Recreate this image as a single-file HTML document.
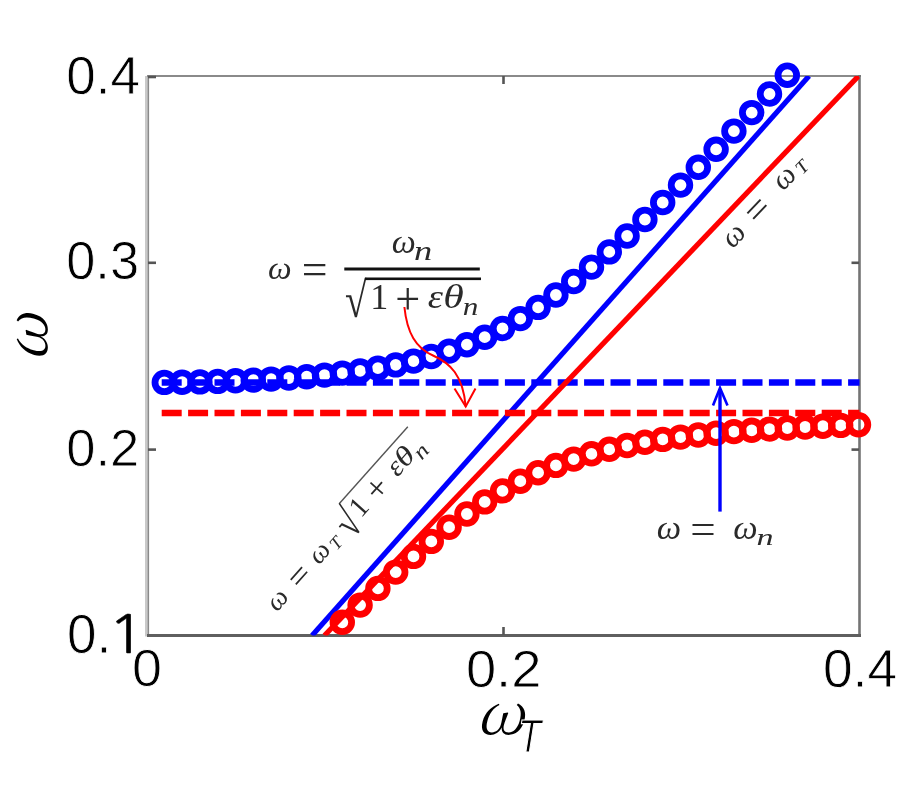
<!DOCTYPE html>
<html><head><meta charset="utf-8"><style>html,body{margin:0;padding:0;background:#fff;width:900px;height:800px;overflow:hidden}svg{display:block}</style></head>
<body><svg width="900" height="800" viewBox="0 0 900 800">
<defs><clipPath id="ax"><rect x="147.5" y="76" width="712" height="559.5"/></clipPath></defs>
<rect width="900" height="800" fill="#fff"/>
<!-- axes -->
<rect x="145" y="76" width="2.6" height="560.5" fill="#c9c9c9"/>
<rect x="147.5" y="76" width="1.6" height="560.5" fill="#8a8a8a"/>
<line x1="147" y1="76" x2="861" y2="76" stroke="#8a8a8a" stroke-width="2"/>
<line x1="859.5" y1="75" x2="859.5" y2="637" stroke="#747474" stroke-width="2.6"/>
<line x1="147" y1="635.4" x2="861" y2="635.4" stroke="#5f5f5f" stroke-width="3"/>
<g stroke="#555" stroke-width="2.6">
<line x1="503.5" y1="627" x2="503.5" y2="635"/>
<line x1="503.5" y1="76" x2="503.5" y2="84"/>
<line x1="148" y1="262.8" x2="156" y2="262.8"/>
<line x1="148" y1="449.6" x2="156" y2="449.6"/>
<line x1="851.5" y1="262.8" x2="859" y2="262.8"/>
<line x1="851.5" y1="449.6" x2="859" y2="449.6"/>
<line x1="148" y1="77" x2="156" y2="77"/>
</g>
<g fill="none" stroke="#0000ff" stroke-width="6.8">
<circle cx="164.3" cy="382.4" r="9.3"/>
<circle cx="182.1" cy="382.2" r="9.3"/>
<circle cx="199.9" cy="381.9" r="9.3"/>
<circle cx="217.7" cy="381.4" r="9.3"/>
<circle cx="235.5" cy="380.8" r="9.3"/>
<circle cx="253.3" cy="380.1" r="9.3"/>
<circle cx="271.1" cy="379.1" r="9.3"/>
<circle cx="288.9" cy="378.0" r="9.3"/>
<circle cx="306.7" cy="376.7" r="9.3"/>
<circle cx="324.5" cy="375.1" r="9.3"/>
<circle cx="342.3" cy="373.1" r="9.3"/>
<circle cx="360.1" cy="370.9" r="9.3"/>
<circle cx="377.9" cy="368.2" r="9.3"/>
<circle cx="395.7" cy="364.9" r="9.3"/>
<circle cx="413.5" cy="361.1" r="9.3"/>
<circle cx="431.3" cy="356.5" r="9.3"/>
<circle cx="449.1" cy="351.1" r="9.3"/>
<circle cx="466.9" cy="344.7" r="9.3"/>
<circle cx="484.7" cy="337.2" r="9.3"/>
<circle cx="502.5" cy="328.5" r="9.3"/>
<circle cx="520.3" cy="318.6" r="9.3"/>
<circle cx="538.1" cy="307.4" r="9.3"/>
<circle cx="555.9" cy="295.0" r="9.3"/>
<circle cx="573.7" cy="281.5" r="9.3"/>
<circle cx="591.5" cy="267.1" r="9.3"/>
<circle cx="609.3" cy="251.9" r="9.3"/>
<circle cx="627.1" cy="236.0" r="9.3"/>
<circle cx="644.9" cy="219.5" r="9.3"/>
<circle cx="662.7" cy="202.5" r="9.3"/>
<circle cx="680.5" cy="185.1" r="9.3"/>
<circle cx="698.3" cy="167.3" r="9.3"/>
<circle cx="716.1" cy="149.3" r="9.3"/>
<circle cx="733.9" cy="131.1" r="9.3"/>
<circle cx="751.7" cy="112.6" r="9.3"/>
<circle cx="769.5" cy="94.0" r="9.3"/>
<circle cx="787.3" cy="75.2" r="9.3"/>
</g>
<g clip-path="url(#ax)">
<line x1="312.1" y1="635.5" x2="809.0" y2="76.0" stroke="#0000ff" stroke-width="5.2"/>
<line x1="161.7" y1="382.5" x2="860" y2="382.5" stroke="#0000ff" stroke-width="6.5" stroke-dasharray="20 6.4"/>
</g>
<g fill="none" stroke="#ff0000" stroke-width="6.8">
<circle cx="342.3" cy="622.3" r="9.3"/>
<circle cx="360.1" cy="605.1" r="9.3"/>
<circle cx="377.9" cy="588.4" r="9.3"/>
<circle cx="395.7" cy="572.1" r="9.3"/>
<circle cx="413.5" cy="556.4" r="9.3"/>
<circle cx="431.3" cy="541.4" r="9.3"/>
<circle cx="449.1" cy="527.2" r="9.3"/>
<circle cx="466.9" cy="514.0" r="9.3"/>
<circle cx="484.7" cy="501.9" r="9.3"/>
<circle cx="502.5" cy="490.9" r="9.3"/>
<circle cx="520.3" cy="481.2" r="9.3"/>
<circle cx="538.1" cy="472.7" r="9.3"/>
<circle cx="555.9" cy="465.4" r="9.3"/>
<circle cx="573.7" cy="459.1" r="9.3"/>
<circle cx="591.5" cy="453.8" r="9.3"/>
<circle cx="609.3" cy="449.3" r="9.3"/>
<circle cx="627.1" cy="445.5" r="9.3"/>
<circle cx="644.9" cy="442.2" r="9.3"/>
<circle cx="662.7" cy="439.4" r="9.3"/>
<circle cx="680.5" cy="437.1" r="9.3"/>
<circle cx="698.3" cy="435.0" r="9.3"/>
<circle cx="716.1" cy="433.2" r="9.3"/>
<circle cx="733.9" cy="431.6" r="9.3"/>
<circle cx="751.7" cy="430.3" r="9.3"/>
<circle cx="769.5" cy="429.1" r="9.3"/>
<circle cx="787.3" cy="428.0" r="9.3"/>
<circle cx="805.1" cy="427.0" r="9.3"/>
<circle cx="822.9" cy="426.2" r="9.3"/>
<circle cx="840.7" cy="425.4" r="9.3"/>
<circle cx="858.5" cy="424.7" r="9.3"/>
</g>
<g clip-path="url(#ax)">
<line x1="324.5" y1="635.5" x2="858.5" y2="76.0" stroke="#ff0000" stroke-width="5.2"/>
<line x1="161.7" y1="413" x2="860" y2="413" stroke="#ff0000" stroke-width="6.5" stroke-dasharray="20 6.4"/>
</g>
<text font-family="Liberation Serif, Times New Roman, serif" font-style="italic" font-size="32.39" transform="translate(267.89,278.68) scale(1.031,1)" fill="#2a2a2a">ω</text>
<text font-family="Liberation Serif, Times New Roman, serif" font-size="44.00" transform="translate(301.72,284.11) scale(1.040,1)" fill="#2a2a2a">=</text>
<text font-family="Liberation Serif, Times New Roman, serif" font-style="italic" font-size="33.23" transform="translate(391.67,252.98) scale(1.024,1)" fill="#2a2a2a">ω</text>
<text font-family="Liberation Serif, Times New Roman, serif" font-style="italic" font-size="26.32" transform="translate(414.00,259.70) scale(1.384,1)" fill="#2a2a2a">n</text>
<rect x="344.3" y="267.5" width="135.5" height="3" fill="#111"/>
<text font-family="Liberation Serif, Times New Roman, serif" font-size="49.26" transform="translate(345.02,316.96) scale(0.796,1)" fill="#2a2a2a">√</text>
<rect x="365" y="277.5" width="116" height="2.6" fill="#111"/>
<text font-family="Liberation Serif, Times New Roman, serif" font-size="35.45" transform="translate(370.13,308.70) scale(1.018,1)" fill="#2a2a2a">1</text>
<text font-family="Liberation Serif, Times New Roman, serif" font-size="45.51" transform="translate(395.20,314.11) scale(0.973,1)" fill="#2a2a2a">+</text>
<text font-family="Liberation Serif, Times New Roman, serif" font-style="italic" font-size="34.10" transform="translate(427.67,308.17) scale(1.129,1)" fill="#2a2a2a">ε</text>
<text font-family="Liberation Serif, Times New Roman, serif" font-style="italic" font-size="32.72" transform="translate(443.36,308.18) scale(1.277,1)" fill="#2a2a2a">θ</text>
<text font-family="Liberation Serif, Times New Roman, serif" font-style="italic" font-size="25.68" transform="translate(462.79,314.80) scale(1.216,1)" fill="#2a2a2a">n</text>
<text font-family="Liberation Serif, Times New Roman, serif" font-style="italic" font-size="34.69" transform="translate(656.75,538.56) scale(0.995,1)" fill="#2a2a2a">ω</text>
<text font-family="Liberation Serif, Times New Roman, serif" font-size="43.20" transform="translate(690.35,542.74) scale(1.045,1)" fill="#2a2a2a">=</text>
<text font-family="Liberation Serif, Times New Roman, serif" font-style="italic" font-size="34.69" transform="translate(733.35,538.56) scale(0.995,1)" fill="#2a2a2a">ω</text>
<text font-family="Liberation Serif, Times New Roman, serif" font-style="italic" font-size="23.13" transform="translate(756.49,544.70) scale(1.472,1)" fill="#2a2a2a">n</text>
<text font-family="Liberation Serif, Times New Roman, serif" font-style="italic" font-size="30.30" transform="translate(732.71,249.25) rotate(-46.30) scale(0.997,1)" fill="#2a2a2a">ω</text>
<text font-family="Liberation Serif, Times New Roman, serif" font-size="40.00" transform="translate(758.44,226.71) rotate(-46.30) scale(1.021,1)" fill="#2a2a2a">=</text>
<text font-family="Liberation Serif, Times New Roman, serif" font-style="italic" font-size="30.30" transform="translate(783.25,191.59) rotate(-46.30) scale(0.997,1)" fill="#2a2a2a">ω</text>
<text font-family="Liberation Serif, Times New Roman, serif" font-style="italic" font-size="18.33" transform="translate(802.42,175.21) rotate(-46.30) scale(1.092,1)" fill="#2a2a2a">T</text>
<text font-family="Liberation Serif, Times New Roman, serif" font-style="italic" font-size="27.17" transform="translate(277.12,612.57) rotate(-48.30) scale(1.024,1)" fill="#2a2a2a">ω</text>
<text font-family="Liberation Serif, Times New Roman, serif" font-size="34.00" transform="translate(300.39,591.04) rotate(-48.30) scale(1.075,1)" fill="#2a2a2a">=</text>
<text font-family="Liberation Serif, Times New Roman, serif" font-style="italic" font-size="27.17" transform="translate(319.03,565.53) rotate(-48.30) scale(1.024,1)" fill="#2a2a2a">ω</text>
<text font-family="Liberation Serif, Times New Roman, serif" font-style="italic" font-size="17.56" transform="translate(336.75,551.08) rotate(-48.30) scale(1.087,1)" fill="#2a2a2a">T</text>
<text font-family="Liberation Serif, Times New Roman, serif" font-size="28.78" transform="translate(361.11,518.41) rotate(-48.30) scale(0.987,1)" fill="#2a2a2a">1</text>
<text font-family="Liberation Serif, Times New Roman, serif" font-size="35.42" transform="translate(378.89,503.20) rotate(-48.30) scale(0.971,1)" fill="#2a2a2a">+</text>
<text font-family="Liberation Serif, Times New Roman, serif" font-style="italic" font-size="28.07" transform="translate(397.40,477.64) rotate(-48.30) scale(1.103,1)" fill="#2a2a2a">ε</text>
<text font-family="Liberation Serif, Times New Roman, serif" font-style="italic" font-size="27.50" transform="translate(405.51,468.69) rotate(-48.30) scale(1.258,1)" fill="#2a2a2a">θ</text>
<text font-family="Liberation Serif, Times New Roman, serif" font-style="italic" font-size="21.22" transform="translate(421.64,460.68) rotate(-48.30) scale(1.226,1)" fill="#2a2a2a">n</text>
<text font-family="Liberation Serif, Times New Roman, serif" font-size="43.24" transform="translate(352.23,539.87) rotate(-48.30) scale(0.818,1)" fill="#2a2a2a">√</text>
<line x1="339.62" y1="503.29" x2="407.81" y2="426.75" stroke="#555" stroke-width="1.4"/>
<text font-family="Noto Serif CJK SC, Liberation Serif, serif" font-size="58.09" transform="translate(46.65,361.66) rotate(-90.00) scale(1.013,1) skewX(-15.0)" fill="#000">ω</text>
<text font-family="Noto Serif CJK SC, Liberation Serif, serif" font-size="58.18" transform="translate(475.84,734.43) scale(1.028,1) skewX(-15.0)" fill="#000">ω</text>
<text font-family="Liberation Sans, Arial, sans-serif" font-style="italic" font-size="46.51" transform="translate(517.89,752.00) scale(0.815,1)" fill="#000" stroke="#fff" stroke-width="1.2">T</text>
<text font-family="Liberation Sans, Arial, sans-serif" font-size="54.10" transform="translate(66.23,93.87) scale(0.979,1)" fill="#000" stroke="#fff" stroke-width="0.8">0.4</text>
<text font-family="Liberation Sans, Arial, sans-serif" font-size="53.25" transform="translate(66.26,278.88) scale(0.983,1)" fill="#000" stroke="#fff" stroke-width="0.8">0.3</text>
<text font-family="Liberation Sans, Arial, sans-serif" font-size="51.84" transform="translate(66.25,465.59) scale(1.014,1)" fill="#000" stroke="#fff" stroke-width="0.8">0.2</text>
<text font-family="Liberation Sans, Arial, sans-serif" font-size="55.37" transform="translate(66.93,652.66) scale(0.957,1)" fill="#000" stroke="#fff" stroke-width="0.8">0.</text>
<text font-family="Liberation Sans, Arial, sans-serif" font-size="51.84" transform="translate(132.09,686.19) scale(1.041,1)" fill="#000" stroke="#fff" stroke-width="0.8">0</text>
<text font-family="Liberation Sans, Arial, sans-serif" font-size="52.68" transform="translate(465.88,686.79) scale(1.032,1)" fill="#000" stroke="#fff" stroke-width="0.8">0.2</text>
<text font-family="Liberation Sans, Arial, sans-serif" font-size="53.39" transform="translate(822.91,687.28) scale(1.000,1)" fill="#000" stroke="#fff" stroke-width="0.8">0.4</text>
<text font-family="NanumGothic, Liberation Sans, sans-serif" font-size="52.28" transform="translate(107.55,653.04) scale(1.205,1)" fill="#000" stroke="#000" stroke-width="0.4">1</text>
<!-- arrows -->
<path d="M404.4,307 C407,333 416,348 433,355.5 C450,363 463,375 465.7,406.5" fill="none" stroke="#ff0000" stroke-width="2"/>
<path d="M454.5,388.5 L465.7,406.5 L475.5,388.5" fill="none" stroke="#ff0000" stroke-width="2"/>
<line x1="720" y1="511.6" x2="720" y2="389" stroke="#0000ff" stroke-width="3.4"/>
<path d="M713,405.5 L720,388 L727.5,405.5" fill="none" stroke="#0000ff" stroke-width="2.6"/>
</svg></body></html>
